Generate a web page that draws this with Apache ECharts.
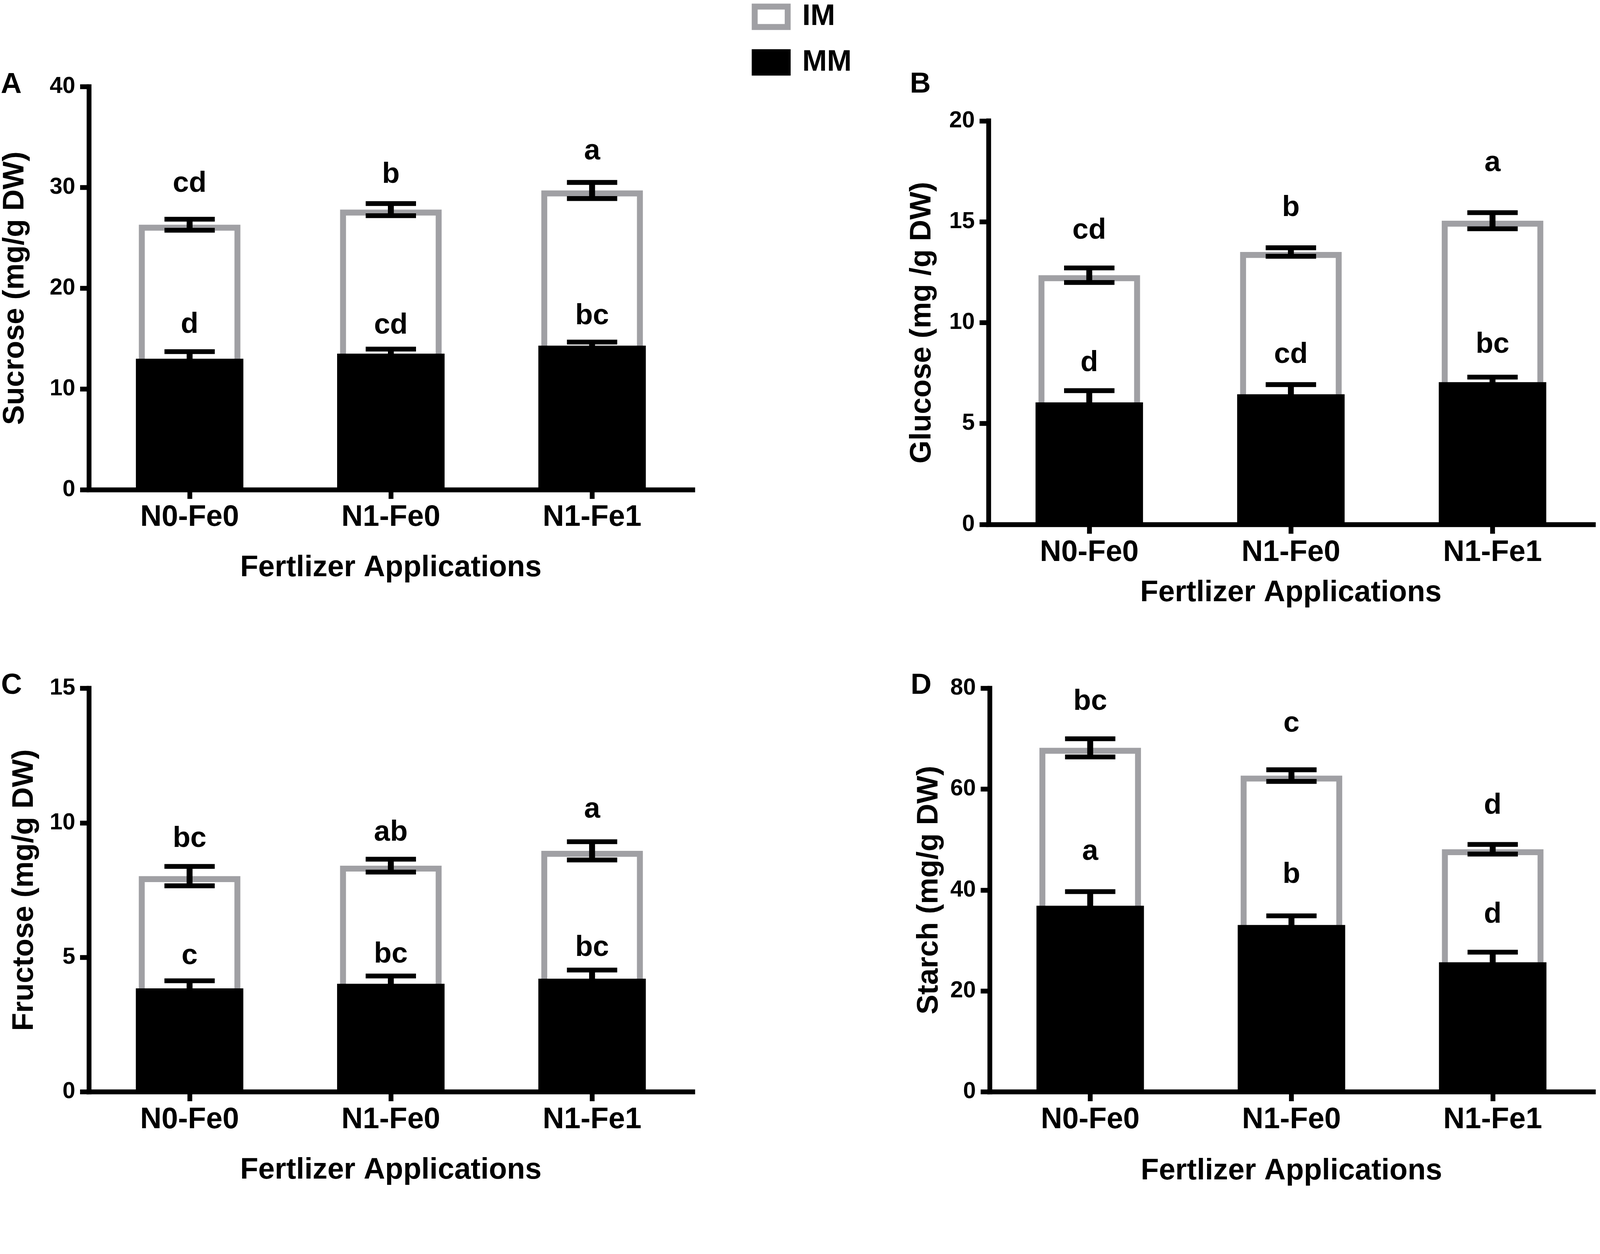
<!DOCTYPE html>
<html><head><meta charset="utf-8">
<script src="https://cdn.jsdelivr.net/npm/echarts@6/dist/echarts.min.js"></script>
<style>html,body{margin:0;padding:0;background:#fff;overflow:hidden}#c{width:100vw;height:100vh}</style>
</head><body><div id="c"></div>
<script>
// ---------------- DATA ----------------
const categories = ['N0-Fe0', 'N1-Fe0', 'N1-Fe1'];
const xAxisTitle = 'Fertlizer Applications';

// A - Sucrose
const sucroseMM = [13.0, 13.5, 14.3];
const sucroseMMErr = [0.7, 0.45, 0.35];
const sucroseIM = [13.3, 14.3, 15.4];
const sucroseIMErr = [0.55, 0.6, 0.8];
const sucroseMMLetters = ['d', 'cd', 'bc'];
const sucroseIMLetters = ['cd', 'b', 'a'];
const sucroseTicks = [0, 10, 20, 30, 40];

// B - Glucose
const glucoseMM = [6.05, 6.45, 7.05];
const glucoseMMErr = [0.58, 0.48, 0.25];
const glucoseIM = [6.3, 7.05, 8.0];
const glucoseIMErr = [0.36, 0.21, 0.4];
const glucoseMMLetters = ['d', 'cd', 'bc'];
const glucoseIMLetters = ['cd', 'b', 'a'];
const glucoseTicks = [0, 5, 10, 15, 20];

// C - Fructose
const fructoseMM = [3.85, 4.02, 4.21];
const fructoseMMErr = [0.28, 0.29, 0.32];
const fructoseIM = [4.17, 4.39, 4.75];
const fructoseIMErr = [0.36, 0.24, 0.34];
const fructoseMMLetters = ['c', 'bc', 'bc'];
const fructoseIMLetters = ['bc', 'ab', 'a'];
const fructoseTicks = [0, 5, 10, 15];

// D - Starch
const starchMM = [36.9, 33.1, 25.7];
const starchMMErr = [2.8, 1.8, 2.0];
const starchIM = [31.3, 29.6, 22.4];
const starchIMErr = [1.8, 1.15, 0.95];
const starchMMLetters = ['a', 'b', 'd'];
const starchIMLetters = ['bc', 'c', 'd'];
const starchTicks = [0, 20, 40, 60, 80];

// ---------------- LAYOUT / STYLE ----------------
const FONT = '"Liberation Sans", Arial, Helvetica, sans-serif';
const GREY = '#a0a0a4';
const S = Math.min(window.innerWidth / 4317, window.innerHeight / 3210);
const px = v => v * S;

const panels = [
  { tag: 'A', title: 'Sucrose (mg/g DW)', mm: sucroseMM, mmErr: sucroseMMErr, im: sucroseIM, imErr: sucroseIMErr,
    mmL: sucroseMMLetters, imL: sucroseIMLetters, ticks: sucroseTicks,
    grid: [240, 234, 1629, 1087], yGap: 159, xGap: 172,
    imOff: [95, 78, 84], mmOff: [72, 63, 70], tagPos: [2, 229] },
  { tag: 'B', title: 'Glucose (mg /g DW)', mm: glucoseMM, mmErr: glucoseMMErr, im: glucoseIM, imErr: glucoseIMErr,
    mmL: glucoseMMLetters, imL: glucoseIMLetters, ticks: glucoseTicks,
    grid: [2667, 326, 1632, 1089], yGap: 138, xGap: 145,
    imOff: [101, 107, 134], mmOff: [74, 80, 87], tagPos: [2455, 228] },
  { tag: 'C', title: 'Fructose (mg/g DW)', mm: fructoseMM, mmErr: fructoseMMErr, im: fructoseIM, imErr: fructoseIMErr,
    mmL: fructoseMMLetters, imL: fructoseIMLetters, ticks: fructoseTicks,
    grid: [240, 1857, 1629, 1089], yGap: 133, xGap: 172,
    imOff: [74, 71, 86], mmOff: [66, 58, 60], tagPos: [3, 1850] },
  { tag: 'D', title: 'Starch (mg/g DW)', mm: starchMM, mmErr: starchMMErr, im: starchIM, imErr: starchIMErr,
    mmL: starchMMLetters, imL: starchIMLetters, ticks: starchTicks,
    grid: [2670, 1857, 1629, 1089], yGap: 123, xGap: 174,
    imOff: [100, 124, 104], mmOff: [107, 110, 101], tagPos: [2457, 1850] }
];

const grids = [], xAxes = [], yAxes = [], series = [], graphics = [];

function errRenderer(letters, offs) {
  return function (params, api) {
    const x = api.value(0), v = api.value(1), e = api.value(2);
    const top = api.coord([x, v + e]);
    const bot = api.coord([x, v - e]);
    const half = api.size([1, 0])[0] * 0.125;
    return {
      type: 'group',
      children: [
        { type: 'line', shape: { x1: top[0], y1: top[1], x2: bot[0], y2: bot[1] }, style: { stroke: '#000', lineWidth: px(16) } },
        { type: 'line', shape: { x1: top[0] - half, y1: top[1], x2: top[0] + half, y2: top[1] }, style: { stroke: '#000', lineWidth: px(13) } },
        { type: 'line', shape: { x1: bot[0] - half, y1: bot[1], x2: bot[0] + half, y2: bot[1] }, style: { stroke: '#000', lineWidth: px(13) } },
        { type: 'text', style: { text: letters[params.dataIndex], x: top[0], y: top[1] - px(offs[params.dataIndex]),
          align: 'center', verticalAlign: 'middle', fill: '#000', font: 'bold ' + px(78) + 'px ' + FONT } }
      ]
    };
  };
}

panels.forEach((p, i) => {
  grids.push({ left: px(p.grid[0]), top: px(p.grid[1]), width: px(p.grid[2]), height: px(p.grid[3]), containLabel: false });
  const ticks = p.ticks;
  const labelStyle = { color: '#000', fontWeight: 'bold', fontFamily: FONT };
  xAxes.push({
    type: 'category', gridIndex: i, data: categories, z: 10,
    axisLine: { show: true, lineStyle: { color: '#000', width: px(13), cap: 'square' } },
    axisTick: { show: true, alignWithLabel: true, length: px(25), lineStyle: { color: '#000', width: px(13) } },
    axisLabel: Object.assign({ margin: px(36), fontSize: px(80) }, labelStyle),
    name: xAxisTitle, nameLocation: 'middle', nameGap: px(p.xGap),
    nameTextStyle: Object.assign({ fontSize: px(80) }, labelStyle),
    splitLine: { show: false }
  });
  xAxes.push({ type: 'category', gridIndex: i, data: categories, show: false });
  yAxes.push({
    type: 'value', gridIndex: i, min: ticks[0], max: ticks[ticks.length - 1], interval: ticks[1] - ticks[0], z: 10,
    axisLine: { show: true, lineStyle: { color: '#000', width: px(13), cap: 'square' } },
    axisTick: { show: true, length: px(24), lineStyle: { color: '#000', width: px(13) } },
    axisLabel: Object.assign({ margin: px(37), fontSize: px(62) }, labelStyle),
    splitLine: { show: false },
    name: p.title, nameLocation: 'middle', nameGap: px(p.yGap),
    nameTextStyle: Object.assign({ fontSize: px(80) }, labelStyle)
  });
  const totals = p.mm.map((v, j) => +(v + p.im[j]).toFixed(3));
  series.push({
    name: 'IM', type: 'bar', xAxisIndex: 2 * i, yAxisIndex: i, barWidth: px(274), data: totals,
    itemStyle: { color: '#fff', borderColor: GREY, borderWidth: px(16) }, silent: true, z: 2
  });
  series.push({
    name: 'MM', type: 'bar', xAxisIndex: 2 * i + 1, yAxisIndex: i, barWidth: px(290), data: p.mm,
    itemStyle: { color: '#000' }, silent: true, z: 3
  });
  series.push({
    type: 'custom', xAxisIndex: 2 * i, yAxisIndex: i, z: 4, silent: true,
    data: totals.map((v, j) => [j, v, p.imErr[j]]),
    renderItem: errRenderer(p.imL, p.imOff)
  });
  series.push({
    type: 'custom', xAxisIndex: 2 * i, yAxisIndex: i, z: 4, silent: true,
    data: p.mm.map((v, j) => [j, v, p.mmErr[j]]),
    renderItem: errRenderer(p.mmL, p.mmOff)
  });
  graphics.push({
    type: 'text', x: px(p.tagPos[0]), y: px(p.tagPos[1]),
    style: { text: p.tag, fill: '#000', font: 'bold ' + px(78) + 'px ' + FONT, align: 'left', verticalAlign: 'middle' }
  });
});

const chart = echarts.init(document.getElementById('c'), null, { renderer: 'canvas' });
chart.setOption({
  backgroundColor: '#fff',
  animation: false,
  grid: grids, xAxis: xAxes, yAxis: yAxes, series: series, graphic: graphics,
  legend: {
    orient: 'vertical', left: px(2023), top: 0, itemWidth: px(89), itemHeight: px(55), itemGap: px(43),
    selectedMode: false,
    textStyle: { fontSize: px(80), fontWeight: 'bold', color: '#000', fontFamily: FONT, lineHeight: px(60), padding: [0, 0, 0, px(34)] },
    data: [
      { name: 'IM', icon: 'rect', itemStyle: { color: '#fff', borderColor: GREY, borderWidth: px(16) } },
      { name: 'MM', icon: 'rect', itemStyle: { color: '#000', borderColor: '#000', borderWidth: px(16) } }
    ]
  }
});
</script></body></html>
